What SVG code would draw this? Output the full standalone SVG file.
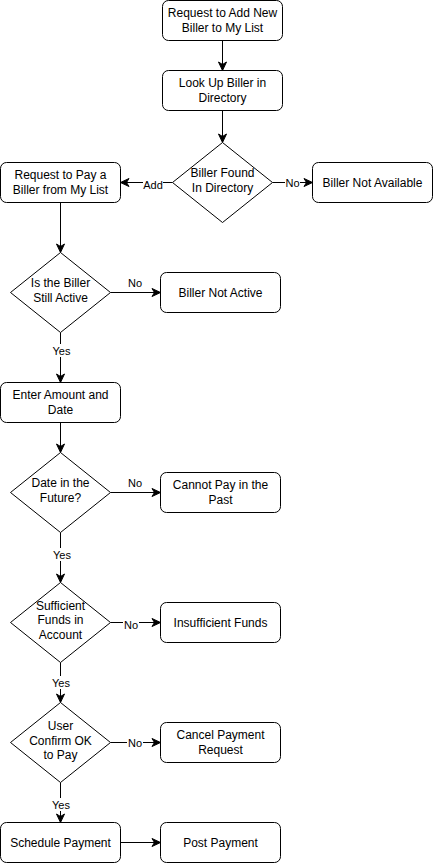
<svg xmlns="http://www.w3.org/2000/svg" width="433" height="863" viewBox="0 0 433 863">
<style>
.box{fill:#fff;stroke:#000;stroke-width:1}
.t{font-family:"Liberation Sans",Arial,Helvetica,sans-serif;font-size:12px;fill:#000;text-anchor:middle}
.l{font-family:"Liberation Sans",Arial,Helvetica,sans-serif;font-size:11px;fill:#000;text-anchor:middle}
.e{fill:none;stroke:#000;stroke-width:1}
.bg{fill:#fff}
</style>
<defs>
<marker id="arr" markerUnits="userSpaceOnUse" markerWidth="12" markerHeight="12" refX="10" refY="6" orient="auto">
<path d="M1.5,2 L10,6 L1.5,10 L4,6 Z" fill="#000" stroke="#000" stroke-width="1"/>
</marker>
</defs>
<rect width="433" height="863" fill="#fff"/>
<g id="connectors">
<path class="e" d="M222.5,40.5 V70.5" marker-end="url(#arr)"/>
<path class="e" d="M222.5,110.5 V142.5" marker-end="url(#arr)"/>
<path class="e" d="M172.5,182.5 H120.5" marker-end="url(#arr)"/>
<rect class="bg" x="143" y="176" width="20" height="13"/>
<text class="l" x="153" y="189">Add</text>
<path class="e" d="M272.5,182.5 H312.5" marker-end="url(#arr)"/>
<rect class="bg" x="285" y="176" width="15" height="13"/>
<text class="l" x="292.5" y="186.5">No</text>
<path class="e" d="M60.5,202.5 V252.5" marker-end="url(#arr)"/>
<path class="e" d="M110.5,292.5 H160.5" marker-end="url(#arr)"/>
<text class="l" x="135" y="286.5">No</text>
<path class="e" d="M60.5,332.5 V382.5" marker-end="url(#arr)"/>
<rect class="bg" x="51" y="344" width="21" height="13"/>
<text class="l" x="61.5" y="354.5">Yes</text>
<path class="e" d="M60.5,422.5 V452.5" marker-end="url(#arr)"/>
<path class="e" d="M110.5,492.5 H160.5" marker-end="url(#arr)"/>
<text class="l" x="135" y="486.5">No</text>
<path class="e" d="M60.5,532.5 V582.5" marker-end="url(#arr)"/>
<rect class="bg" x="51" y="548" width="21" height="13"/>
<text class="l" x="62" y="558.5">Yes</text>
<path class="e" d="M110.5,622.5 H160.5" marker-end="url(#arr)"/>
<rect class="bg" x="123" y="617" width="16" height="13"/>
<text class="l" x="131" y="629">No</text>
<path class="e" d="M60.5,662.5 V702.5" marker-end="url(#arr)"/>
<rect class="bg" x="50" y="676" width="21" height="13"/>
<text class="l" x="61" y="686.5">Yes</text>
<path class="e" d="M110.5,742.5 H160.5" marker-end="url(#arr)"/>
<rect class="bg" x="127" y="736" width="16" height="13"/>
<text class="l" x="135" y="746.5">No</text>
<path class="e" d="M60.5,782.5 V822.5" marker-end="url(#arr)"/>
<rect class="bg" x="50" y="798" width="21" height="13"/>
<text class="l" x="61" y="809">Yes</text>
<path class="e" d="M120.5,842.5 H160.5" marker-end="url(#arr)"/>
</g>
<g id="n1"><rect class="box" x="162.5" y="0.5" width="120" height="40" rx="6"/><text class="t" x="222.5" y="17">Request to Add New</text><text class="t" x="222.5" y="31.5">Biller to My List</text></g>
<g id="n2"><rect class="box" x="162.5" y="70.5" width="120" height="40" rx="6"/><text class="t" x="222.5" y="87">Look Up Biller in</text><text class="t" x="222.5" y="101.5">Directory</text></g>
<g id="d1"><path class="box" d="M222.5,142.5 L272.5,182.5 L222.5,222.5 L172.5,182.5 Z"/><text class="t" x="222.5" y="177">Biller Found</text><text class="t" x="222.5" y="191.5">In Directory</text></g>
<g id="n3"><rect class="box" x="0.5" y="162.5" width="120" height="40" rx="6"/><text class="t" x="60.5" y="179">Request to Pay a</text><text class="t" x="60.5" y="193.5">Biller from My List</text></g>
<g id="n4"><rect class="box" x="312.5" y="162.5" width="120" height="40" rx="6"/><text class="t" x="372.5" y="186.5">Biller Not Available</text></g>
<g id="d2"><path class="box" d="M60.5,252.5 L110.5,292.5 L60.5,332.5 L10.5,292.5 Z"/><text class="t" x="60.5" y="287">Is the Biller</text><text class="t" x="60.5" y="301.5">Still Active</text></g>
<g id="n5"><rect class="box" x="160.5" y="272.5" width="120" height="40" rx="6"/><text class="t" x="220.5" y="296.5">Biller Not Active</text></g>
<g id="n6"><rect class="box" x="0.5" y="382.5" width="120" height="40" rx="6"/><text class="t" x="60.5" y="399">Enter Amount and</text><text class="t" x="60.5" y="413.5">Date</text></g>
<g id="d3"><path class="box" d="M60.5,452.5 L110.5,492.5 L60.5,532.5 L10.5,492.5 Z"/><text class="t" x="60.5" y="487">Date in the</text><text class="t" x="60.5" y="501.5">Future?</text></g>
<g id="n7"><rect class="box" x="160.5" y="472.5" width="120" height="40" rx="6"/><text class="t" x="220.5" y="489">Cannot Pay in the</text><text class="t" x="220.5" y="503.5">Past</text></g>
<g id="d4"><path class="box" d="M60.5,582.5 L110.5,622.5 L60.5,662.5 L10.5,622.5 Z"/><text class="t" x="60.5" y="610">Sufficient</text><text class="t" x="60.5" y="624.3">Funds in</text><text class="t" x="60.5" y="638.6">Account</text></g>
<g id="n8"><rect class="box" x="160.5" y="602.5" width="120" height="40" rx="6"/><text class="t" x="220.5" y="626.5">Insufficient Funds</text></g>
<g id="d5"><path class="box" d="M60.5,702.5 L110.5,742.5 L60.5,782.5 L10.5,742.5 Z"/><text class="t" x="60.5" y="730.3">User</text><text class="t" x="60.5" y="744.5">Confirm OK</text><text class="t" x="60.5" y="759">to Pay</text></g>
<g id="n9"><rect class="box" x="160.5" y="722.5" width="120" height="40" rx="6"/><text class="t" x="220.5" y="739">Cancel Payment</text><text class="t" x="220.5" y="753.5">Request</text></g>
<g id="n10"><rect class="box" x="0.5" y="822.5" width="120" height="40" rx="6"/><text class="t" x="60.5" y="846.5">Schedule Payment</text></g>
<g id="n11"><rect class="box" x="160.5" y="822.5" width="120" height="40" rx="6"/><text class="t" x="220.5" y="846.5">Post Payment</text></g>
</svg>
